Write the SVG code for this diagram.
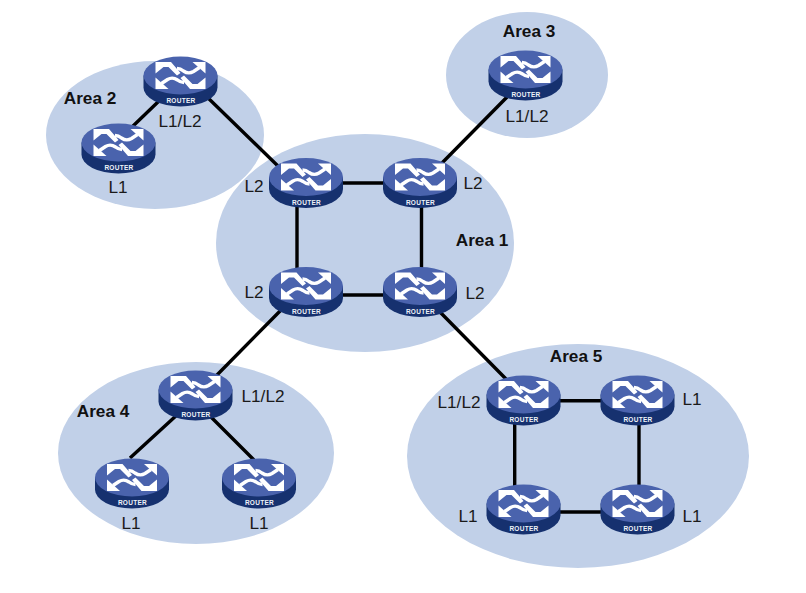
<svg xmlns="http://www.w3.org/2000/svg" width="806" height="593" viewBox="0 0 806 593">
<style>
.area{fill:#c1d0e8}
.lnk{stroke:#000;stroke-width:3.4;fill:none}
.lb{font:17.2px "Liberation Sans",Arial,sans-serif;fill:#1a1a1a;text-anchor:middle}
.ar{font:bold 17.2px "Liberation Sans",Arial,sans-serif;fill:#111;text-anchor:middle}
.rt{font:bold 6.5px "Liberation Sans",Arial,sans-serif;fill:#eef2f8;text-anchor:middle;letter-spacing:.3px}
.st{fill:none;stroke:#fff;stroke-width:3.4}
</style>
<defs>
<g id="q">
<path d="M-25-13.500H-9.500L0-2.500L-3.500 0L-12-8.500H-17L-25-2Z" fill="#fff"/>
<path d="M25-13.500H12L25-2Z" fill="#fff"/>
<path class="st" d="M19-8L13-4Q8-1 3-4.500Q0-7-3.500-7"/>
</g>
<g id="r">
<path d="M-37 0V12A37 19 0 0 0 37 12V0Z" fill="#16316f"/>
<ellipse cx="0" cy="0" rx="37" ry="19" fill="#4a63ad"/>
<use href="#q"/>
<use href="#q" transform="rotate(180)"/>
</g>
</defs>
<rect width="806" height="593" fill="#fff"/>
<g id="areas">
<ellipse class="area" cx="155" cy="135" rx="109" ry="74"/>
<ellipse class="area" cx="527" cy="75" rx="81" ry="63"/>
<ellipse class="area" cx="365" cy="243" rx="149" ry="109"/>
<ellipse class="area" cx="196" cy="453" rx="138" ry="91"/>
<ellipse class="area" cx="578" cy="456" rx="171" ry="112"/>
</g>
<g id="connectors">
<path class="lnk" d="M160 100L132 127M205 95L280 168M510 94L440 165M335 183H390M297 200V275M421.500 200V275M335 295H390M285 306L215 377M438 310L507 380M178 414L130 458M208 414L254 460M555 400.700H610M514.700 415V490M639 415V490M555 512H610"/>
</g>
<g id="router-a2-l1l2"><use href="#r" x="180.500" y="75.500"/><text class="rt" x="181" y="103">ROUTER</text><text class="lb" x="180" y="127">L1/L2</text></g>
<g id="router-a2-l1"><use href="#r" x="118.500" y="142.500"/><text class="rt" x="119" y="170">ROUTER</text><text class="lb" x="118" y="193">L1</text></g>
<g id="router-a3"><use href="#r" x="525.500" y="69.500"/><text class="rt" x="526" y="97">ROUTER</text><text class="lb" x="527" y="122">L1/L2</text></g>
<g id="router-a1-tl"><use href="#r" x="306" y="177"/><text class="rt" x="306.500" y="205">ROUTER</text><text class="lb" x="254" y="192">L2</text></g>
<g id="router-a1-tr"><use href="#r" x="420" y="177"/><text class="rt" x="420.500" y="205">ROUTER</text><text class="lb" x="473" y="189">L2</text></g>
<g id="router-a1-bl"><use href="#r" x="306" y="286"/><text class="rt" x="306.500" y="314">ROUTER</text><text class="lb" x="254" y="298">L2</text></g>
<g id="router-a1-br"><use href="#r" x="420" y="286"/><text class="rt" x="420.500" y="314">ROUTER</text><text class="lb" x="475" y="299">L2</text></g>
<g id="router-a4-top"><use href="#r" x="195.500" y="389.500"/><text class="rt" x="196" y="417">ROUTER</text><text class="lb" x="263" y="402">L1/L2</text></g>
<g id="router-a4-l"><use href="#r" x="132" y="477.500"/><text class="rt" x="132.500" y="505">ROUTER</text><text class="lb" x="131" y="529">L1</text></g>
<g id="router-a4-r"><use href="#r" x="259" y="477.500"/><text class="rt" x="259.500" y="505">ROUTER</text><text class="lb" x="259" y="529">L1</text></g>
<g id="router-a5-tl"><use href="#r" x="523.500" y="394.500"/><text class="rt" x="524" y="422">ROUTER</text><text class="lb" x="459" y="408">L1/L2</text></g>
<g id="router-a5-tr"><use href="#r" x="637.500" y="394.500"/><text class="rt" x="638" y="422">ROUTER</text><text class="lb" x="692" y="405">L1</text></g>
<g id="router-a5-bl"><use href="#r" x="523.500" y="503.500"/><text class="rt" x="524" y="531">ROUTER</text><text class="lb" x="468" y="522">L1</text></g>
<g id="router-a5-br"><use href="#r" x="637.500" y="503.500"/><text class="rt" x="638" y="531">ROUTER</text><text class="lb" x="692" y="522">L1</text></g>
<g id="labels">
<text class="ar" x="90" y="104">Area 2</text>
<text class="ar" x="529" y="37">Area 3</text>
<text class="ar" x="482" y="246">Area 1</text>
<text class="ar" x="103" y="417">Area 4</text>
<text class="ar" x="576" y="362">Area 5</text>
</g>
</svg>
